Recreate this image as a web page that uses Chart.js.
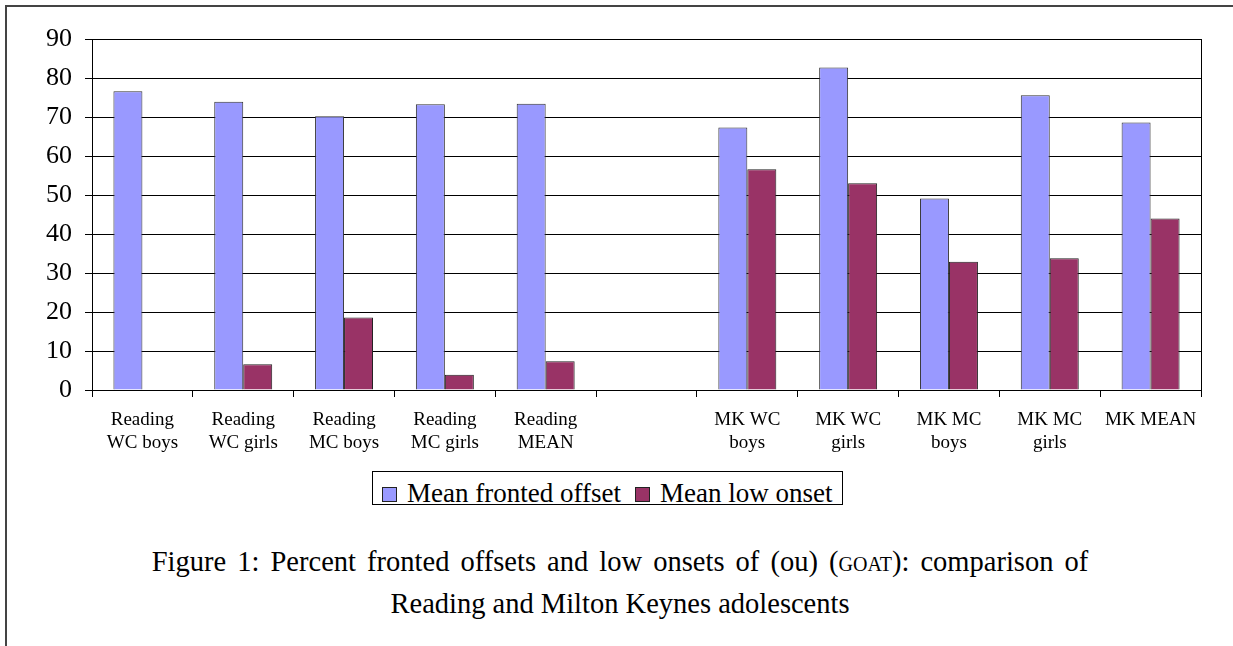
<!DOCTYPE html>
<html>
<head>
<meta charset="utf-8">
<script src="https://cdn.jsdelivr.net/npm/chart.js@4"></script>
<style>
  html, body { margin: 0; padding: 0; background: #fff; overflow: hidden; }
  body { width: 1233px; height: 646px; position: relative; color: #000; }
  #frame { position: absolute; left: 5px; top: 5px; width: 1300px; height: 700px; border: 2px solid #444; box-sizing: border-box; }
  #chart { position: absolute; left: 0; top: 0; }
  #legend { position: absolute; left: 372px; top: 471px; width: 471px; height: 34px; border: 1px solid #000; box-sizing: border-box; background: #fff; }
  .sw { position: absolute; width: 15px; height: 15px; border: 1px solid #222; box-sizing: border-box; top: 15px; }
  .lt { position: absolute; font-family: 'Liberation Serif', serif; font-size: 27px; line-height: 27px; top: 8px; white-space: nowrap; }
  #caption { position: absolute; left: 0; width: 1240px; top: 542px; text-align: center; font-family: 'Liberation Serif', serif; font-size: 28.5px; line-height: 39px; }
  #caption .l1 { word-spacing: 4px; }
  .sc { font-size: 20px; }
</style>
</head>
<body>
<div id="frame"></div>
<canvas id="chart" width="1233" height="460"></canvas>
<div id="legend"></div>
<div id="caption"><span class="l1">Figure 1: Percent fronted offsets and low onsets of (ou) (<span class="sc">GOAT</span>): comparison of</span><br>Reading and Milton Keynes adolescents</div>
<script>
// Group labels along the x axis (the blank one separates Reading from MK)
const categories = [
    ["Reading", "WC boys"], ["Reading", "WC girls"], ["Reading", "MC boys"],
    ["Reading", "MC girls"], ["Reading", "MEAN"], "",
    ["MK WC", "boys"], ["MK WC", "girls"], ["MK MC", "boys"], ["MK MC", "girls"], "MK MEAN"
];

// Percentages per group
const frontedOffset = [76.6, 73.9, 70.2, 73.3, 73.4, null, 67.3, 82.7, 49.1, 75.6, 68.6];
const lowOnset = [0, 6.6, 18.6, 3.9, 7.4, null, 56.6, 53.0, 32.9, 33.8, 44.0];

const seriesNames = ["Mean fronted offset", "Mean low onset"];
const seriesColors = ["#9999ff", "#993366"];

const yTicks = [0, 10, 20, 30, 40, 50, 60, 70, 80, 90];

const SERIF = "'Liberation Serif', 'Times New Roman', serif";

// closes the plot box on the right side
const plotBorder = {
    id: "plotBorder",
    afterDraw(chart) {
        const { ctx, chartArea } = chart;
        ctx.save();
        ctx.strokeStyle = "#000";
        ctx.lineWidth = 1;
        ctx.beginPath();
        ctx.moveTo(chartArea.right + 0.5, chartArea.top);
        ctx.lineTo(chartArea.right + 0.5, chartArea.bottom);
        ctx.stroke();
        ctx.restore();
    }
};

const chart = new Chart(document.getElementById("chart"), {
    type: "bar",
    data: {
        labels: categories,
        datasets: [
            {
                label: seriesNames[0],
                data: frontedOffset,
                backgroundColor: seriesColors[0],
                borderColor: "#333",
                borderWidth: 1
            },
            {
                label: seriesNames[1],
                data: lowOnset,
                backgroundColor: seriesColors[1],
                borderColor: "#222",
                borderWidth: 1
            }
        ]
    },
    options: {
        responsive: false,
        animation: false,
        devicePixelRatio: 1,
        categoryPercentage: 0.575,
        barPercentage: 1,
        layout: { padding: { top: 39, right: 32, left: 0, bottom: 0 } },
        plugins: {
            legend: { display: false },
            tooltip: { enabled: false }
        },
        scales: {
            x: {
                afterFit: s => { s.height = 70; },
                grid: {
                    offset: true,
                    drawOnChartArea: false,
                    drawTicks: true,
                    tickLength: 7,
                    color: "#000"
                },
                border: { color: "#000", width: 1 },
                ticks: {
                    color: "#000",
                    padding: 12,
                    maxRotation: 0,
                    autoSkip: false,
                    font: { family: SERIF, size: 19, lineHeight: 1.2 }
                }
            },
            y: {
                min: 0,
                max: 90,
                afterFit: s => { s.width = 92; },
                afterBuildTicks: s => { s.ticks = yTicks.map(v => ({ value: v })); },
                grid: {
                    color: "#000",
                    lineWidth: 1,
                    tickLength: 7
                },
                border: { color: "#000", width: 1 },
                ticks: {
                    color: "#000",
                    padding: 13,
                    font: { family: SERIF, size: 26 }
                }
            }
        }
    },
    plugins: [plotBorder]
});

// legend box below the plot
const legend = document.getElementById("legend");
const swatchLeft = [9, 262];
const textLeft = [34, 287];
seriesNames.forEach((name, i) => {
    const sw = document.createElement("div");
    sw.className = "sw";
    sw.style.left = swatchLeft[i] + "px";
    sw.style.background = seriesColors[i];
    legend.appendChild(sw);
    const t = document.createElement("div");
    t.className = "lt";
    t.style.left = textLeft[i] + "px";
    t.textContent = name;
    legend.appendChild(t);
});
</script>
</body>
</html>
